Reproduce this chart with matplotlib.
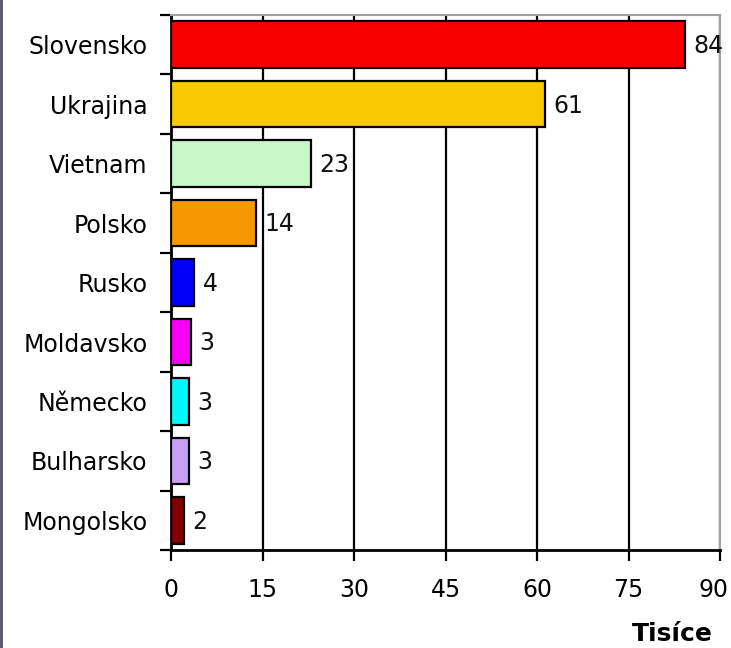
import matplotlib.pyplot as plt
import numpy as np
from matplotlib.lines import Line2D
from matplotlib.transforms import ScaledTranslation

# data (thousands)
countries = ['Slovensko', 'Ukrajina', 'Vietnam', 'Polsko', 'Rusko',
             'Moldavsko', 'Německo', 'Bulharsko', 'Mongolsko']
values = [84.2, 61.3, 22.9, 13.9, 3.8, 3.3, 2.9, 3.0, 2.1]
colors = ['#F80000', '#F8C800', '#C8F8C8', '#F89800', '#0000F8',
          '#F800F8', '#00F8F8', '#C8A0F8', '#800000']
xticks = [0, 15, 30, 45, 60, 75, 90]

fig = plt.figure(figsize=(7.31, 6.48), dpi=100)
ax = fig.add_axes([0.234, 0.151, 0.751, 0.826])

y = np.arange(len(countries))
ax.barh(y, values, height=0.78, color=colors, edgecolor='black', linewidth=1.6, zorder=3)

for yi, v in zip(y, values):
    ax.annotate('%.0f' % v, (v, yi), xytext=(6, -1), textcoords='offset points',
                va='center', ha='left', fontsize=17, color='#111111')

ax.set_xlim(0, 90)
ax.set_ylim(len(countries) - 0.5, -0.5)
ax.set_xticks(xticks)
ax.set_xticklabels([str(t) for t in xticks], fontsize=17)
ax.set_yticks(y)
ax.set_yticklabels(countries, fontsize=17)
ax.set_yticks(np.arange(len(countries) + 1) - 0.5, minor=True)
ax.tick_params(axis='y', which='major', length=0, pad=17)
ax.tick_params(axis='y', which='minor', length=8, width=1.6, direction='out')
ax.tick_params(axis='x', length=8, width=1.6, direction='out', pad=12)

# keep the last tick label inside the figure
last = ax.get_xticklabels()[-1]
last.set_transform(last.get_transform() + ScaledTranslation(-5 / 72, 0, fig.dpi_scale_trans))

ax.grid(axis='x', color='black', linewidth=1.6, zorder=0)
ax.spines['left'].set_linewidth(2)
ax.spines['bottom'].set_linewidth(2)
ax.spines['top'].set_color('#A0A0A0')
ax.spines['right'].set_color('#A0A0A0')
ax.spines['top'].set_linewidth(1.5)
ax.spines['right'].set_linewidth(1.5)

fig.text(0.975, 0.003, 'Tisíce', ha='right', va='bottom', fontsize=18, fontweight='bold')

# dark strip on the left edge
fig.add_artist(Line2D([0.002, 0.002], [0, 1], color='#505068', linewidth=2, transform=fig.transFigure))

fig.savefig('out.png', dpi=100)
